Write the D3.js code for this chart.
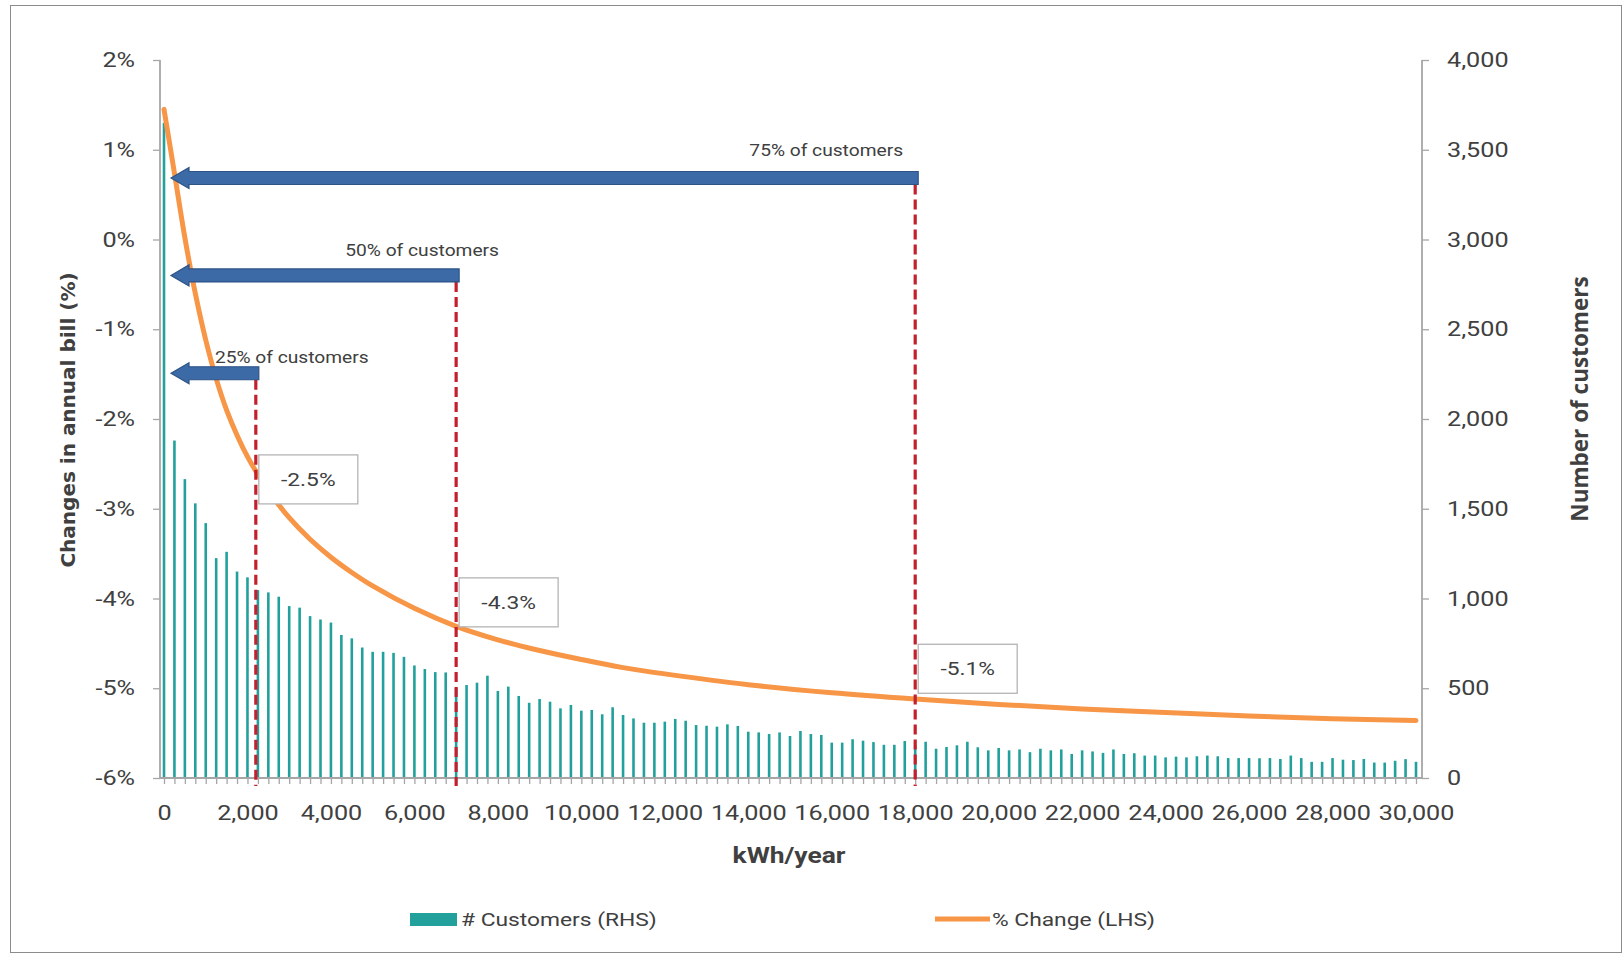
<!DOCTYPE html>
<html lang="en">
<head>
<meta charset="UTF-8">
<title>Changes in annual bill vs kWh/year</title>
<script src="https://cdn.jsdelivr.net/npm/d3@7"></script>
<style>
  body { margin: 0; background: #fff; }
  text { font-family: Roboto, "Noto Sans", sans-serif; fill: #404040; }
</style>
</head>
<body>
<div id="chart"></div>
<script>
// kWh/year categories (one bar every 250 kWh)
const kwh = d3.range(0, 30001, 250);

// # Customers (RHS)
const customers = [
  3650, 1880, 1665, 1530, 1420, 1225, 1260, 1150, 1118, 1047,
  1034, 1010, 958, 949, 902, 883, 866, 797, 778, 727,
  703, 703, 697, 675, 627, 607, 590, 588, 500, 518,
  531, 570, 485, 509, 457, 419, 440, 425, 388, 407,
  375, 379, 355, 394, 351, 332, 308, 308, 314, 329,
  319, 295, 291, 286, 299, 290, 258, 254, 245, 254,
  234, 262, 245, 240, 197, 197, 216, 208, 200, 185,
  185, 206, 182, 202, 163, 173, 182, 202, 171, 154,
  167, 154, 159, 144, 163, 154, 159, 134, 154, 148,
  140, 159, 134, 138, 125, 125, 115, 119, 115, 121,
  125, 121, 111, 111, 111, 110, 111, 106, 125, 111,
  90, 90, 111, 102, 100, 106, 86, 86, 96, 105, 90
];

// % Change (LHS)
const lineKwh = [0, 250, 500, 750, 1000, 1250, 1500, 1750, 2000, 2250, 2500, 3000, 3500, 4000, 4500, 5000,
  6000, 7000, 8000, 9000, 10000, 11000, 12000, 14000, 16000, 18000, 20000, 22000, 24000, 26000, 28000, 30000];
const linePct = [1.45, 0.74, 0.02, -0.6, -1.12, -1.55, -1.9, -2.18, -2.42, -2.62, -2.8, -3.1, -3.34, -3.54, -3.71, -3.86,
  -4.11, -4.31, -4.46, -4.58, -4.68, -4.77, -4.84, -4.96, -5.05, -5.12, -5.18, -5.23, -5.27, -5.31, -5.34, -5.36];

// quartiles of customers
const quartiles = [2200, 7000, 18000];
const shareLabels = ["25% of customers", "50% of customers", "75% of customers"];
const valueLabels = ["-2.5%", "-4.3%", "-5.1%"];

// tick labels
const xTicks = d3.range(0, 30001, 2000);
const leftTicks = [2, 1, 0, -1, -2, -3, -4, -5, -6];
const rightTicks = [0, 500, 1000, 1500, 2000, 2500, 3000, 3500, 4000];

const W = 1624, H = 954;
const SX = 1.2; // horizontal text stretch, like the picture

const svg = d3.select("#chart").append("svg")
  .attr("width", W).attr("height", H);

svg.append("rect").attr("x", 10.5).attr("y", 5.5)
  .attr("width", 1611).attr("height", 947)
  .attr("fill", "#fff").attr("stroke", "#8c8c8c");

const x = d3.scaleLinear().domain([0, 30000]).range([164, 1416]);
const yL = d3.scaleLinear().domain([-6, 2]).range([778, 60]);
const yR = d3.scaleLinear().domain([0, 4000]).range([778, 60]);

const axisL = 160, axisR = 1422, base = yL(-6);

// stretched horizontal text
function hText(g, px, py, str) {
  return g.append("text")
    .attr("transform", `translate(${px},${py}) scale(${SX},1)`)
    .text(str);
}
function stretchTicks(g) {
  g.selectAll("text")
    .attr("x", function () { return +d3.select(this).attr("x") / SX; })
    .attr("transform", `scale(${SX},1)`);
}

// bars
svg.append("g").selectAll("rect")
  .data(customers)
  .join("rect")
  .attr("x", (d, i) => x(kwh[i]) - 1.3)
  .attr("width", 2.6)
  .attr("y", d => yR(d))
  .attr("height", d => base - yR(d))
  .attr("fill", "#22a19c");

// axes
const gl = svg.append("g").attr("transform", `translate(${axisL},0)`)
  .call(d3.axisLeft(yL).tickValues(leftTicks).tickSizeInner(7).tickSizeOuter(0).tickPadding(18)
    .tickFormat(d => d + "%"));
const gr = svg.append("g").attr("transform", `translate(${axisR},0)`)
  .call(d3.axisRight(yR).tickValues(rightTicks).tickSizeInner(7).tickSizeOuter(0).tickPadding(18)
    .tickFormat(d3.format(",")));
const gb = svg.append("g").attr("transform", `translate(0,${base})`)
  .call(d3.axisBottom(x).tickValues(xTicks).tickSize(0).tickPadding(27)
    .tickFormat(d3.format(",")));
const gm = svg.append("g").attr("transform", `translate(0,${base})`)
  .call(d3.axisBottom(x).tickValues(kwh).tickSize(6).tickFormat(""));

[gl, gr, gb, gm].forEach(g => {
  g.select(".domain").remove();
  g.selectAll("line").attr("stroke", "#a6a6a6").attr("stroke-width", 1.3);
  g.selectAll("text").style("font-size", "21px").attr("fill", "#404040");
  stretchTicks(g);
});

svg.append("line").attr("x1", axisL).attr("x2", axisL).attr("y1", yL(2)).attr("y2", base)
  .attr("stroke", "#a6a6a6").attr("stroke-width", 1.8);
svg.append("line").attr("x1", axisR).attr("x2", axisR).attr("y1", yR(4000)).attr("y2", base)
  .attr("stroke", "#a6a6a6").attr("stroke-width", 1.8);
svg.append("line").attr("x1", axisL).attr("x2", axisR).attr("y1", base).attr("y2", base)
  .attr("stroke", "#a6a6a6").attr("stroke-width", 1.8);

// % change line
const line = d3.line()
  .x((d, i) => x(lineKwh[i]))
  .y(d => yL(d))
  .curve(d3.curveCatmullRom.alpha(0.5));
svg.append("path")
  .attr("d", line(linePct))
  .attr("fill", "none")
  .attr("stroke", "#f79646")
  .attr("stroke-width", 5)
  .attr("stroke-linecap", "round");

// annotation layout (LHS units / px offsets)
const arrowLevel = [-1.49, -0.40, 0.685];
const labelDx = [36, -34, -89];
const labelDy = [-16, -25, -28];
const boxTop = [-2.40, -3.77, -4.51];

const ann = svg.append("g");
quartiles.forEach((q, i) => {
  const xq = x(q), ya = yL(arrowLevel[i]);
  // red dashed drop line
  ann.append("line")
    .attr("x1", xq).attr("x2", xq)
    .attr("y1", ya + 6.5).attr("y2", base + 8)
    .attr("stroke", "#c3202d").attr("stroke-width", 3.2)
    .attr("stroke-dasharray", "10,5");
  // block arrow pointing left
  const tip = x(0) + 7, head = tip + 18, tail = xq + 3;
  const pts = [[tip, ya], [head, ya - 10.5], [head, ya - 6.5], [tail, ya - 6.5],
    [tail, ya + 6.5], [head, ya + 6.5], [head, ya + 10.5]];
  ann.append("path")
    .attr("d", d3.line()(pts) + "Z")
    .attr("fill", "#3c6aa6").attr("stroke", "#2d5387").attr("stroke-width", 1.2);
  hText(ann, xq + labelDx[i], ya + labelDy[i], shareLabels[i])
    .attr("text-anchor", "middle").attr("dy", "0.35em")
    .style("font-size", "16px").attr("fill", "#333");
});

// value boxes
quartiles.forEach((q, i) => {
  const bx = x(q) + 3, by = yL(boxTop[i]);
  ann.append("rect").attr("x", bx).attr("y", by).attr("width", 99).attr("height", 49)
    .attr("fill", "#fff").attr("stroke", "#b4b4b4").attr("stroke-width", 1.3);
  hText(ann, bx + 49.5, by + 24.5, valueLabels[i])
    .attr("text-anchor", "middle").attr("dy", "0.35em")
    .style("font-size", "19px").attr("fill", "#404040");
});

// axis titles
hText(svg, 789, 855, "kWh/year")
  .attr("text-anchor", "middle").attr("dy", "0.35em")
  .style("font-size", "22px").style("font-weight", "bold").attr("fill", "#1a1a1a");

svg.append("text")
  .attr("transform", "translate(68,420) rotate(-90)")
  .attr("text-anchor", "middle").attr("dy", "0.35em")
  .style("font-family", "'DejaVu Sans', sans-serif")
  .style("font-size", "20px").style("font-weight", "bold").attr("fill", "#1a1a1a")
  .text("Changes in annual bill (%)");

svg.append("text")
  .attr("transform", "translate(1580,399) rotate(-90)")
  .attr("text-anchor", "middle").attr("dy", "0.35em")
  .style("font-family", "'Open Sans', sans-serif")
  .style("font-size", "22.5px").style("font-weight", "bold").attr("fill", "#1a1a1a")
  .text("Number of customers");

// legend
const lg = svg.append("g");
lg.append("rect").attr("x", 410).attr("y", 913).attr("width", 47).attr("height", 13)
  .attr("fill", "#22a19c");
hText(lg, 461, 919, "# Customers (RHS)").attr("dy", "0.35em").style("font-size", "19px");
lg.append("line").attr("x1", 935).attr("x2", 990).attr("y1", 919).attr("y2", 919)
  .attr("stroke", "#f79646").attr("stroke-width", 5);
hText(lg, 992, 919, "% Change (LHS)").attr("dy", "0.35em").style("font-size", "19px");
</script>
</body>
</html>
